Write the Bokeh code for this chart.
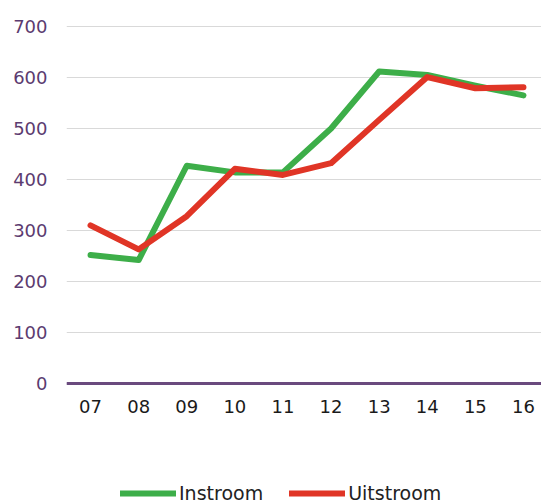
from bokeh.plotting import figure
from bokeh.layouts import column
from bokeh.models import Range1d, FixedTicker, Span, Legend, LegendItem
from bokeh.embed import file_html
from bokeh.resources import INLINE

years = ["07", "08", "09", "10", "11", "12", "13", "14", "15", "16"]
instroom = [252, 242, 427, 414, 414, 500, 612, 605, 584, 565]
uitstroom = [310, 263, 328, 421, 409, 432, 517, 601, 579, 581]
y_ticks = [0, 100, 200, 300, 400, 500, 600, 700]

FONT = "DejaVu Sans"
GREEN = "#3dae49"
RED = "#e03526"
PURPLE = "#5c3b70"

x = list(range(len(years)))

# main chart
p = figure(width=541, height=470, output_backend="svg", toolbar_location=None,
           x_range=Range1d(-0.5, 9.375), y_range=Range1d(-10, 710),
           min_border_left=66, min_border_right=0, min_border_top=21,
           min_border_bottom=82)
p.outline_line_color = None
p.background_fill_color = "white"
p.border_fill_color = "white"

p.xgrid.grid_line_color = None
p.ygrid.grid_line_color = "#d9d9d9"
p.ygrid.grid_line_width = 1

p.yaxis.ticker = FixedTicker(ticks=y_ticks)
p.yaxis.axis_line_color = None
p.yaxis.major_tick_line_color = None
p.yaxis.major_tick_out = 0
p.yaxis.major_tick_in = 0
p.yaxis.minor_tick_line_color = None
p.yaxis.major_label_standoff = 19
p.yaxis.major_label_text_font = FONT
p.yaxis.major_label_text_font_size = "18px"
p.yaxis.major_label_text_color = PURPLE

p.xaxis.ticker = FixedTicker(ticks=x)
p.xaxis.major_label_overrides = {i: years[i] for i in x}
p.xaxis.axis_line_color = None
p.xaxis.major_tick_line_color = None
p.xaxis.major_tick_out = 0
p.xaxis.major_tick_in = 0
p.xaxis.minor_tick_line_color = None
p.xaxis.major_label_standoff = 11
p.xaxis.major_label_text_font = FONT
p.xaxis.major_label_text_font_size = "18px"
p.xaxis.major_label_text_color = "#1a1a1a"

zero = Span(location=0, dimension="width", line_color="#6a4a7e", line_width=3)
p.add_layout(zero)

p.line(x, instroom, line_color=GREEN, line_width=6, line_join="round", line_cap="round")
p.line(x, uitstroom, line_color=RED, line_width=6, line_join="round", line_cap="round")

# legend strip below the chart (series drawn outside its visible range, only legend shows)
lg = figure(width=541, height=34, output_backend="svg", toolbar_location=None,
            x_axis_type=None, y_axis_type=None,
            x_range=Range1d(-0.5, 9.375), y_range=Range1d(0, 1),
            min_border_left=0, min_border_right=0, min_border_top=0,
            min_border_bottom=0)
lg.outline_line_color = None
lg.background_fill_color = "white"
lg.border_fill_color = "white"
l1 = lg.line(x, instroom, line_color=GREEN, line_width=6, line_cap="round")
l2 = lg.line(x, uitstroom, line_color=RED, line_width=6, line_cap="round")

legend = Legend(items=[LegendItem(label="Instroom", renderers=[l1]),
                       LegendItem(label="Uitstroom", renderers=[l2])],
                orientation="horizontal", location=(54, 0),
                glyph_width=56, glyph_height=20, label_standoff=3, spacing=26,
                padding=0, margin=0, border_line_color=None,
                background_fill_alpha=0,
                label_text_font=FONT, label_text_font_size="19px",
                label_text_color="#222222")
lg.add_layout(legend, "center")

layout = column(p, lg, spacing=0)

open("out.html", "w").write(file_html(layout, INLINE))
